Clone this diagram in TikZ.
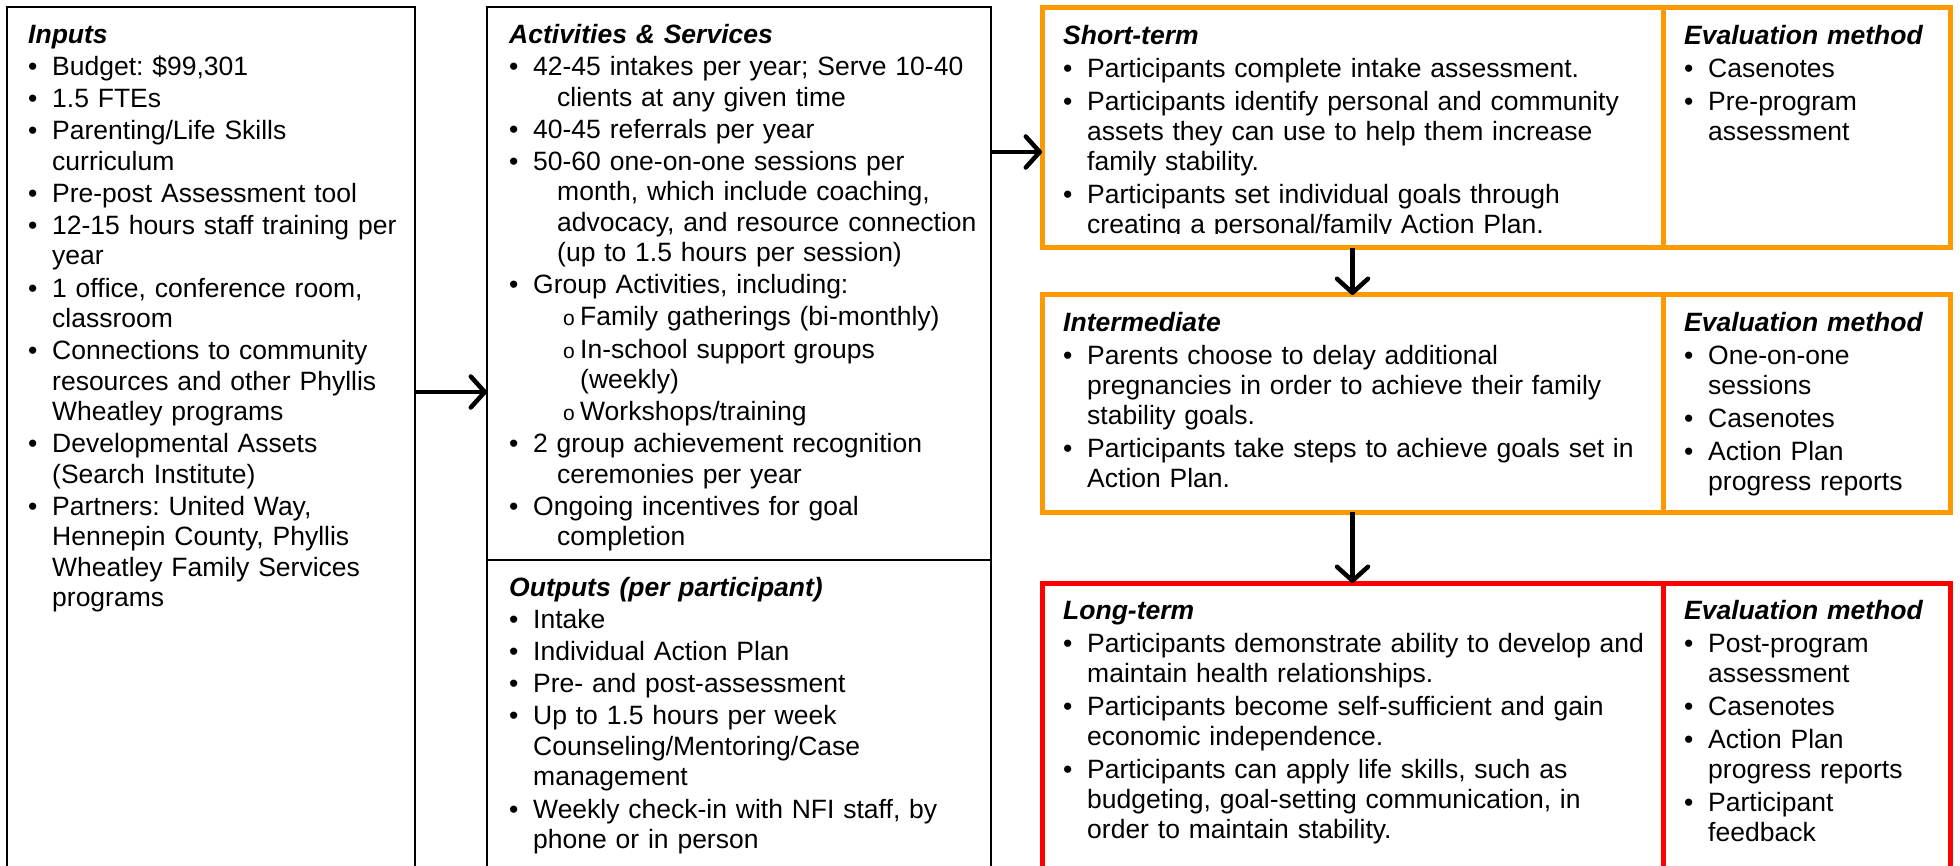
\documentclass[tikz,border=0pt]{standalone}
\usepackage{fontspec}
\setmainfont{Liberation Sans}
\usetikzlibrary{positioning,calc,arrows.meta}

\definecolor{stageorange}{RGB}{255,153,0}
\definecolor{stagered}{RGB}{255,0,0}

\newlength\bulhang
\setlength\bulhang{24pt}
\newcommand{\hd}[1]{\textbf{\textit{#1}}}
\newcommand{\itm}{\par\hangindent=\bulhang\hangafter=1\noindent\makebox[24pt][l]{•}}
\newcommand{\subitm}{\par\hangindent=71pt\hangafter=1\noindent\hspace*{54pt}\makebox[17pt][l]{\fontsize{21}{21}\selectfont o}}
\newcommand{\leftfont}{\fontsize{26.5}{30.5}\selectfont\frenchspacing\setlength\parskip{1.6pt}\setlength\parindent{0pt}}
\newcommand{\rightfont}{\fontsize{26.5}{30}\selectfont\frenchspacing\setlength\parskip{3pt}\setlength\parindent{0pt}}

\tikzset{
  plainbox/.style={draw=black, line width=2.5pt, rectangle, inner sep=0pt, outer sep=0pt, anchor=north west},
  stagebox/.style={draw=stageorange, line width=5pt, rectangle, inner sep=0pt, outer sep=0pt, anchor=north west},
  longbox/.style={stagebox, draw=stagered},
  txt/.style={anchor=base west, inner sep=0pt, text width=#1, align=left, font=\leftfont},
  rtxt/.style={txt=#1, font=\rightfont}
}

\begin{document}
\begin{tikzpicture}[x=1pt,y=-1pt]
	\useasboundingbox (0,0) rectangle (1960,866);
	\clip (0,0) rectangle (1960,866);

	% boxes
	\node[plainbox, minimum width=408pt, minimum height=900pt] (inputs) at (7,7) {};
	\node[plainbox, minimum width=504pt, minimum height=553pt] (acts) at (487,7) {};
	\node[plainbox, minimum width=504pt, minimum height=340pt] (outs) at (acts.south west) {};

	\node[stagebox, minimum width=621pt, minimum height=240pt] (short) at (1042,8) {};
	\node[stagebox, minimum width=287pt, minimum height=240pt] (shortEval) at (short.north east) {};
	\node[stagebox, minimum width=621pt, minimum height=217pt] (inter) at (1042,295) {};
	\node[stagebox, minimum width=287pt, minimum height=217pt] (interEval) at (inter.north east) {};
	\node[longbox, minimum width=621pt, minimum height=320pt] (long) at (1042,583) {};
	\node[longbox, minimum width=287pt, minimum height=320pt] (longEval) at (long.north east) {};

	% texts
	\node[txt=390pt] (inputsTxt) at ([xshift=21pt,yshift=-36.5pt]inputs.north west) {\hd{Inputs}
		\itm Budget: \$99,301
		\itm 1.5 FTEs
		\itm Parenting/Life Skills\newline curriculum
		\itm Pre-post Assessment tool
		\itm 12-15 hours staff training per\newline year
		\itm 1 office, conference room,\newline classroom
		\itm Connections to community\newline resources and other Phyllis\newline Wheatley programs
		\itm Developmental Assets\newline (Search Institute)
		\itm Partners: United Way,\newline Hennepin County, Phyllis\newline Wheatley Family Services\newline programs\par};

	\node[txt=475pt] (actsTxt) at ([xshift=22pt,yshift=-36.5pt]acts.north west) {\setlength\bulhang{48pt}\hd{Activities \& Services}
		\itm 42-45 intakes per year; Serve 10-40\newline clients at any given time
		\itm 40-45 referrals per year
		\itm 50-60 one-on-one sessions per\newline month, which include coaching,\newline advocacy, and resource connection\newline (up to 1.5 hours per session)
		\itm Group Activities, including:
		\subitm Family gatherings (bi-monthly)
		\subitm In-school support groups\newline (weekly)
		\subitm Workshops/training
		\itm 2 group achievement recognition\newline ceremonies per year
		\itm Ongoing incentives for goal\newline completion\par};

	\node[txt=475pt] (outsTxt) at ([xshift=22pt,yshift=-36.5pt]outs.north west) {\hd{Outputs (per participant)}
		\itm Intake
		\itm Individual Action Plan
		\itm Pre- and post-assessment
		\itm Up to 1.5 hours per week\newline Counseling/Mentoring/Case\newline management
		\itm Weekly check-in with NFI staff, by\newline phone or in person\par};

	\begin{scope}
		\clip (short.north west) rectangle ([yshift=14pt]short.south east);
		\node[rtxt=595pt] (shortTxt) at ([xshift=21pt,yshift=-36.5pt]short.north west) {\hd{Short-term}
			\itm Participants complete intake assessment.
			\itm Participants identify personal and community\newline assets they can use to help them increase\newline family stability.
			\itm Participants set individual goals through\newline creating a personal/family Action Plan.\par};
	\end{scope}
	\node[rtxt=265pt] (shortEvalTxt) at ([xshift=21pt,yshift=-36.5pt]shortEval.north west) {\hd{Evaluation method}
		\itm Casenotes
		\itm Pre-program\newline assessment\par};

	\node[rtxt=595pt] (interTxt) at ([xshift=21pt,yshift=-36.5pt]inter.north west) {\hd{Intermediate}
		\itm Parents choose to delay additional\newline pregnancies in order to achieve their family\newline stability goals.
		\itm Participants take steps to achieve goals set in\newline Action Plan.\par};
	\node[rtxt=265pt] (interEvalTxt) at ([xshift=21pt,yshift=-36.5pt]interEval.north west) {\hd{Evaluation method}
		\itm One-on-one\newline sessions
		\itm Casenotes
		\itm Action Plan\newline progress reports\par};

	\node[rtxt=595pt] (longTxt) at ([xshift=21pt,yshift=-36.5pt]long.north west) {\hd{Long-term}
		\itm Participants demonstrate ability to develop and\newline maintain health relationships.
		\itm Participants become self-sufficient and gain\newline economic independence.
		\itm Participants can apply life skills, such as\newline budgeting, goal-setting communication, in\newline order to maintain stability.\par};
	\node[rtxt=265pt] (longEvalTxt) at ([xshift=21pt,yshift=-36.5pt]longEval.north west) {\hd{Evaluation method}
		\itm Post-program\newline assessment
		\itm Casenotes
		\itm Action Plan\newline progress reports
		\itm Participant\newline feedback\par};

	% arrows
	\begin{scope}[>={Straight Barb[length=14pt, width=31pt, round]}, line width=4.5pt]
		\draw[->] ([yshift=-385pt]inputs.north east) -- ([yshift=-385pt]acts.north west);
		\draw[->] ([yshift=-145pt]acts.north east) -- ([yshift=-144pt]short.north west);
		\draw[->] (short.south) -- (inter.north);
		\draw[->] (inter.south) -- (long.north);
	\end{scope}

\end{tikzpicture}
\end{document}
